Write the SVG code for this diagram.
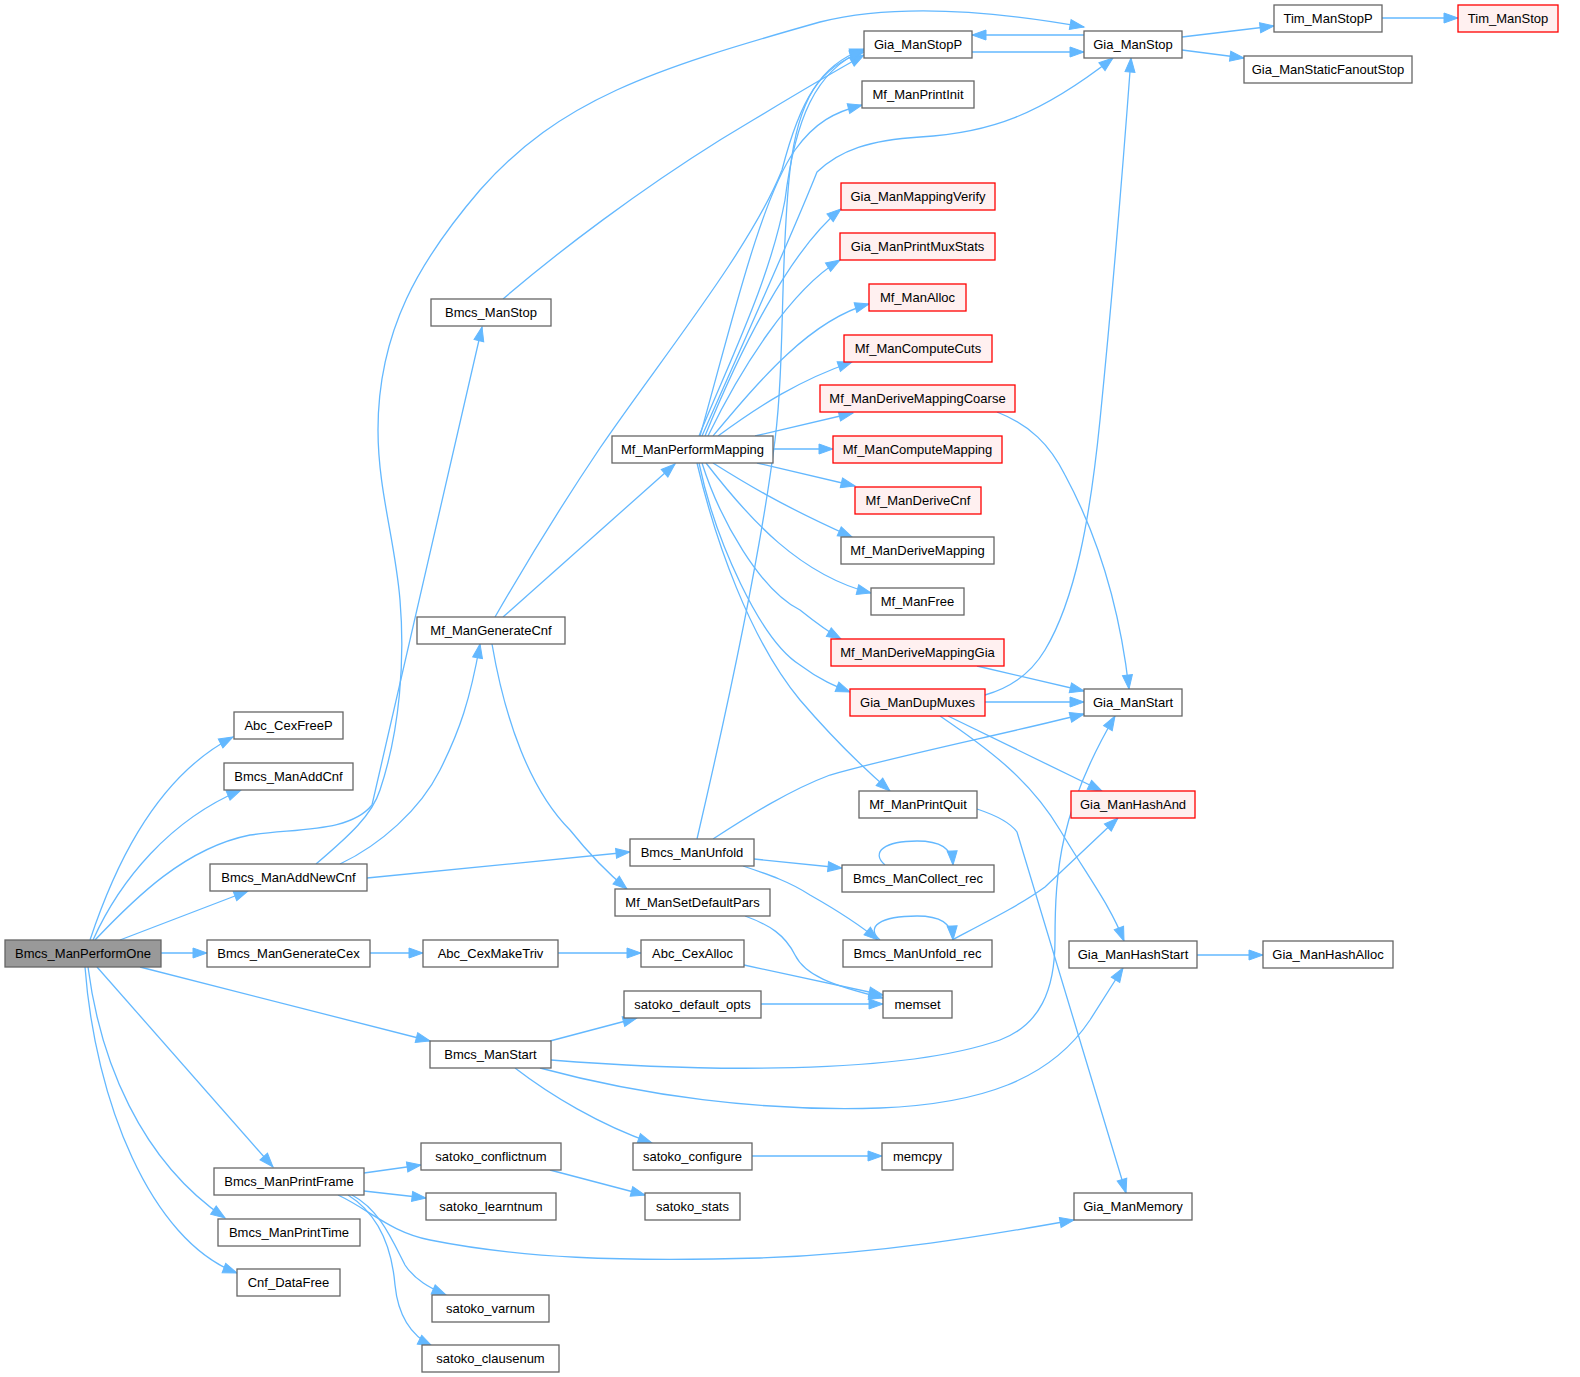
<svg xmlns="http://www.w3.org/2000/svg" width="1580" height="1377" viewBox="0 0 1580 1377">
<style>
.n rect{fill:#ffffff;stroke:#666666;stroke-width:1.3}
.r rect{fill:#fff0f0;stroke:#ff0000;stroke-width:1.3}
.m rect{fill:#999999;stroke:#666666;stroke-width:1.3}
text{font-family:"Liberation Sans",Arial,Helvetica,sans-serif;font-size:13px;text-anchor:middle;fill:#000000}
#edges path{fill:none;stroke:#63b8ff;stroke-width:1.3;marker-end:url(#a)}
</style>
<defs>
<marker id="a" markerUnits="userSpaceOnUse" markerWidth="15" markerHeight="11" refX="14" refY="5" orient="auto" overflow="visible">
<path d="M0,0 L14,5 L0,10 z" fill="#63b8ff" stroke="#63b8ff" stroke-width="1"/>
</marker>
</defs>
<rect x="0" y="0" width="1580" height="1377" fill="#ffffff"/>
<g id="edges">
<path d="M95,940 C135,898 185,848 250,835 C300,828 350,832 372,805 L482,327"/>
<path d="M90,940 C110,880 150,780 233,737"/>
<path d="M93,940 C120,880 170,820 241,790"/>
<path d="M120,940 L248,891"/>
<path d="M161,953 L207,953"/>
<path d="M140,967 L430,1041"/>
<path d="M97,967 L273,1167"/>
<path d="M88,967 C100,1060 140,1160 225,1218"/>
<path d="M85,967 C95,1100 150,1240 237,1273"/>
<path d="M316,864 C350,835 372,815 380,790 C400,730 405,660 400,600 C395,540 378,490 378,430 C378,330 420,260 480,190 C560,100 650,70 820,22 C900,2 1000,12 1084,27"/>
<path d="M340,864 C380,845 420,810 440,770 C460,730 470,700 480,644"/>
<path d="M367,878 L630,852"/>
<path d="M503,299 C560,250 640,190 720,140 C770,110 810,85 864,55"/>
<path d="M370,953 L423,953"/>
<path d="M558,953 L641,953"/>
<path d="M744,965 L883,995"/>
<path d="M745,916 C770,925 785,935 795,955 C805,975 830,985 883,998"/>
<path d="M761,1004 L883,1004"/>
<path d="M550,1041 L637,1018"/>
<path d="M551,1060 C700,1072 900,1075 1000,1040 C1040,1025 1055,990 1055,940 C1055,870 1060,810 1115,716"/>
<path d="M540,1068 C640,1095 760,1112 880,1108 C980,1104 1050,1080 1090,1020 L1123,968"/>
<path d="M515,1068 C550,1095 600,1125 652,1143"/>
<path d="M752,1156 L882,1156"/>
<path d="M550,1170 L645,1195"/>
<path d="M364,1173 L421,1165"/>
<path d="M364,1191 L426,1198"/>
<path d="M352,1195 C380,1210 392,1240 405,1265 C415,1280 430,1288 446,1295"/>
<path d="M348,1195 C380,1215 392,1250 395,1285 C398,1315 410,1335 432,1346"/>
<path d="M338,1195 C370,1210 390,1232 430,1240 C520,1258 620,1262 760,1258 C880,1254 990,1235 1074,1220"/>
<path d="M977,809 C995,815 1010,822 1017,832 L1126,1193"/>
<path d="M1197,955 L1263,955"/>
<path d="M952,940 C990,920 1020,905 1045,887 L1118,818"/>
<path d="M880,940 C865,927 880,916 917,916 C940,916 952,923 953,940"/>
<path d="M885,865 C870,852 885,841 917,841 C940,841 952,848 953,865"/>
<path d="M754,859 L842,868"/>
<path d="M743,866 C770,875 790,882 810,895 C840,912 860,925 878,940"/>
<path d="M713,839 C750,815 790,790 830,775 C900,755 1000,735 1084,714"/>
<path d="M697,839 C720,740 760,560 775,440 C785,360 780,260 790,170 C798,100 820,65 864,49"/>
<path d="M503,617 L675,464"/>
<path d="M495,617 C525,565 565,500 600,448 C660,360 750,250 782,170 C800,100 820,65 864,52"/>
<path d="M492,644 C505,720 530,790 570,830 C590,855 610,875 627,889"/>
<path d="M699,436 C730,360 770,280 785,200 C795,120 815,70 864,50"/>
<path d="M700,436 C730,330 760,200 795,150 C815,122 835,112 862,105"/>
<path d="M702,436 C740,350 790,240 817,172 C840,150 870,140 920,137 C990,133 1040,115 1113,58"/>
<path d="M705,436 C740,350 790,250 841,209"/>
<path d="M708,436 C740,370 790,290 840,260"/>
<path d="M713,436 C760,380 810,320 869,304"/>
<path d="M718,436 C760,405 800,380 852,362"/>
<path d="M755,436 L853,413"/>
<path d="M773,449 L833,449"/>
<path d="M757,463 L855,486"/>
<path d="M713,463 C740,480 780,505 852,537"/>
<path d="M706,463 C750,520 800,575 871,593"/>
<path d="M702,463 C720,520 760,590 800,610 C815,622 825,630 841,639"/>
<path d="M699,463 C715,540 760,640 800,665 C820,680 835,686 850,692"/>
<path d="M697,463 C715,540 750,640 800,700 C830,735 860,765 890,791"/>
<path d="M997,412 C1030,425 1050,445 1065,475 C1100,540 1120,610 1129,689"/>
<path d="M977,666 L1084,691"/>
<path d="M985,702 L1084,702"/>
<path d="M985,695 C1010,688 1030,675 1045,650 C1075,600 1090,520 1100,420 C1112,300 1122,180 1131,58"/>
<path d="M948,716 L1102,791"/>
<path d="M940,716 C990,750 1030,780 1060,830 C1090,880 1110,905 1124,941"/>
<path d="M972,52 L1084,52"/>
<path d="M1084,35 L972,35"/>
<path d="M1182,37 L1274,26"/>
<path d="M1182,50 L1244,58"/>
<path d="M1382,18 L1458,18"/>
</g>
<g id="n_Bmcs_ManPerformOne" class="m"><rect x="5" y="940" width="156" height="27"/><text x="83" y="958">Bmcs_ManPerformOne</text></g>
<g id="n_Abc_CexFreeP" class="n"><rect x="234" y="712" width="109" height="27"/><text x="288.5" y="730">Abc_CexFreeP</text></g>
<g id="n_Bmcs_ManAddCnf" class="n"><rect x="224" y="763" width="129" height="27"/><text x="288.5" y="781">Bmcs_ManAddCnf</text></g>
<g id="n_Bmcs_ManAddNewCnf" class="n"><rect x="210" y="864" width="157" height="27"/><text x="288.5" y="882">Bmcs_ManAddNewCnf</text></g>
<g id="n_Bmcs_ManGenerateCex" class="n"><rect x="207" y="940" width="163" height="27"/><text x="288.5" y="958">Bmcs_ManGenerateCex</text></g>
<g id="n_Bmcs_ManStart" class="n"><rect x="430" y="1041" width="121" height="27"/><text x="490.5" y="1059">Bmcs_ManStart</text></g>
<g id="n_Bmcs_ManPrintFrame" class="n"><rect x="214" y="1168" width="150" height="27"/><text x="289" y="1186">Bmcs_ManPrintFrame</text></g>
<g id="n_Bmcs_ManPrintTime" class="n"><rect x="218" y="1219" width="142" height="27"/><text x="289" y="1237">Bmcs_ManPrintTime</text></g>
<g id="n_Cnf_DataFree" class="n"><rect x="237" y="1269" width="103" height="27"/><text x="288.5" y="1287">Cnf_DataFree</text></g>
<g id="n_Bmcs_ManStop" class="n"><rect x="431" y="299" width="120" height="27"/><text x="491" y="317">Bmcs_ManStop</text></g>
<g id="n_Mf_ManGenerateCnf" class="n"><rect x="417" y="617" width="148" height="27"/><text x="491" y="635">Mf_ManGenerateCnf</text></g>
<g id="n_Abc_CexMakeTriv" class="n"><rect x="423" y="940" width="135" height="27"/><text x="490.5" y="958">Abc_CexMakeTriv</text></g>
<g id="n_satoko_conflictnum" class="n"><rect x="421" y="1143" width="140" height="27"/><text x="491" y="1161">satoko_conflictnum</text></g>
<g id="n_satoko_learntnum" class="n"><rect x="426" y="1193" width="130" height="27"/><text x="491" y="1211">satoko_learntnum</text></g>
<g id="n_satoko_varnum" class="n"><rect x="432" y="1295" width="117" height="27"/><text x="490.5" y="1313">satoko_varnum</text></g>
<g id="n_satoko_clausenum" class="n"><rect x="422" y="1345" width="137" height="27"/><text x="490.5" y="1363">satoko_clausenum</text></g>
<g id="n_Mf_ManPerformMapping" class="n"><rect x="612" y="436" width="161" height="27"/><text x="692.5" y="454">Mf_ManPerformMapping</text></g>
<g id="n_Bmcs_ManUnfold" class="n"><rect x="630" y="839" width="124" height="27"/><text x="692" y="857">Bmcs_ManUnfold</text></g>
<g id="n_Mf_ManSetDefaultPars" class="n"><rect x="615" y="889" width="155" height="27"/><text x="692.5" y="907">Mf_ManSetDefaultPars</text></g>
<g id="n_Abc_CexAlloc" class="n"><rect x="641" y="940" width="103" height="27"/><text x="692.5" y="958">Abc_CexAlloc</text></g>
<g id="n_satoko_default_opts" class="n"><rect x="624" y="991" width="137" height="27"/><text x="692.5" y="1009">satoko_default_opts</text></g>
<g id="n_satoko_configure" class="n"><rect x="633" y="1143" width="119" height="27"/><text x="692.5" y="1161">satoko_configure</text></g>
<g id="n_satoko_stats" class="n"><rect x="645" y="1193" width="95" height="27"/><text x="692.5" y="1211">satoko_stats</text></g>
<g id="n_Gia_ManStopP" class="n"><rect x="864" y="31" width="108" height="27"/><text x="918" y="49">Gia_ManStopP</text></g>
<g id="n_Mf_ManPrintInit" class="n"><rect x="862" y="81" width="112" height="27"/><text x="918" y="99">Mf_ManPrintInit</text></g>
<g id="n_Gia_ManMappingVerify" class="r"><rect x="841" y="183" width="154" height="27"/><text x="918" y="201">Gia_ManMappingVerify</text></g>
<g id="n_Gia_ManPrintMuxStats" class="r"><rect x="840" y="233" width="155" height="27"/><text x="917.5" y="251">Gia_ManPrintMuxStats</text></g>
<g id="n_Mf_ManAlloc" class="r"><rect x="869" y="284" width="97" height="27"/><text x="917.5" y="302">Mf_ManAlloc</text></g>
<g id="n_Mf_ManComputeCuts" class="r"><rect x="844" y="335" width="148" height="27"/><text x="918" y="353">Mf_ManComputeCuts</text></g>
<g id="n_Mf_ManDeriveMappingCoarse" class="r"><rect x="820" y="385" width="195" height="27"/><text x="917.5" y="403">Mf_ManDeriveMappingCoarse</text></g>
<g id="n_Mf_ManComputeMapping" class="r"><rect x="833" y="436" width="169" height="27"/><text x="917.5" y="454">Mf_ManComputeMapping</text></g>
<g id="n_Mf_ManDeriveCnf" class="r"><rect x="855" y="487" width="126" height="27"/><text x="918" y="505">Mf_ManDeriveCnf</text></g>
<g id="n_Mf_ManDeriveMapping" class="n"><rect x="841" y="537" width="153" height="27"/><text x="917.5" y="555">Mf_ManDeriveMapping</text></g>
<g id="n_Mf_ManFree" class="n"><rect x="871" y="588" width="93" height="27"/><text x="917.5" y="606">Mf_ManFree</text></g>
<g id="n_Mf_ManDeriveMappingGia" class="r"><rect x="831" y="639" width="173" height="27"/><text x="917.5" y="657">Mf_ManDeriveMappingGia</text></g>
<g id="n_Gia_ManDupMuxes" class="r"><rect x="850" y="689" width="135" height="27"/><text x="917.5" y="707">Gia_ManDupMuxes</text></g>
<g id="n_Mf_ManPrintQuit" class="n"><rect x="859" y="791" width="118" height="27"/><text x="918" y="809">Mf_ManPrintQuit</text></g>
<g id="n_Bmcs_ManCollect_rec" class="n"><rect x="842" y="865" width="152" height="27"/><text x="918" y="883">Bmcs_ManCollect_rec</text></g>
<g id="n_Bmcs_ManUnfold_rec" class="n"><rect x="843" y="940" width="149" height="27"/><text x="917.5" y="958">Bmcs_ManUnfold_rec</text></g>
<g id="n_memset" class="n"><rect x="883" y="991" width="69" height="27"/><text x="917.5" y="1009">memset</text></g>
<g id="n_memcpy" class="n"><rect x="882" y="1143" width="71" height="27"/><text x="917.5" y="1161">memcpy</text></g>
<g id="n_Gia_ManStop" class="n"><rect x="1084" y="31" width="98" height="27"/><text x="1133" y="49">Gia_ManStop</text></g>
<g id="n_Gia_ManStart" class="n"><rect x="1084" y="689" width="98" height="27"/><text x="1133" y="707">Gia_ManStart</text></g>
<g id="n_Gia_ManHashAnd" class="r"><rect x="1071" y="791" width="124" height="27"/><text x="1133" y="809">Gia_ManHashAnd</text></g>
<g id="n_Gia_ManHashStart" class="n"><rect x="1069" y="941" width="128" height="27"/><text x="1133" y="959">Gia_ManHashStart</text></g>
<g id="n_Gia_ManMemory" class="n"><rect x="1074" y="1193" width="118" height="27"/><text x="1133" y="1211">Gia_ManMemory</text></g>
<g id="n_Tim_ManStopP" class="n"><rect x="1274" y="5" width="108" height="27"/><text x="1328" y="23">Tim_ManStopP</text></g>
<g id="n_Tim_ManStop" class="r"><rect x="1458" y="5" width="100" height="27"/><text x="1508" y="23">Tim_ManStop</text></g>
<g id="n_Gia_ManStaticFanoutStop" class="n"><rect x="1244" y="56" width="168" height="27"/><text x="1328" y="74">Gia_ManStaticFanoutStop</text></g>
<g id="n_Gia_ManHashAlloc" class="n"><rect x="1263" y="941" width="130" height="27"/><text x="1328" y="959">Gia_ManHashAlloc</text></g>
</svg>
